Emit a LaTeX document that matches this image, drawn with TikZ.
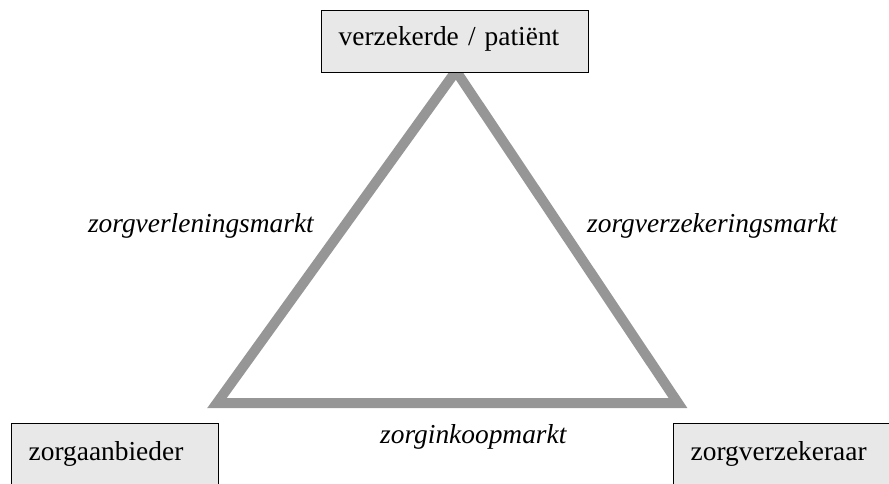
\documentclass[tikz,border=0pt]{standalone}
\usepackage{fontspec}
\setmainfont{Liberation Serif}
\definecolor{trigray}{RGB}{150,150,150}
\definecolor{boxfill}{RGB}{232,232,232}
\begin{document}
\begin{tikzpicture}[x=1pt,y=-1pt,
  every node/.style={font=\fontsize{27.4}{33}\selectfont},
  partybox/.style={draw=black, line width=1.4pt, fill=boxfill, rectangle,
    anchor=north west, inner xsep=17pt, inner ysep=0pt, align=left,
    minimum height=62pt, text height=19pt, text depth=7pt},
  marketlabel/.style={font=\fontsize{27.4}{33}\selectfont\itshape, inner sep=0pt},
  triline/.style={draw=trigray, line width=10pt, line join=miter, miter limit=10}]
\useasboundingbox (0,0) rectangle (889,484);
\clip (0,0) rectangle (889,484);
% triangle corners
\coordinate (bl) at (217,403);
\coordinate (br) at (678,403);
\coordinate (apex) at (456,71);
\draw[triline] (bl) -- (br) -- (apex) -- cycle;
% parties
\node[partybox, text width=233pt, text depth=11pt] (patient) at (321,10) {verzekerde / patiënt};
\node[partybox, text width=173pt] (aanbieder) at (11,423) {zorgaanbieder};
\node[partybox, text width=220pt] (verzekeraar) at (673,423) {zorgverzekeraar};
% markets
\node[marketlabel, anchor=base east] (verlening) at (314,232) {zorgverleningsmarkt};
\node[marketlabel, anchor=base west] (verzekering) at (587,232) {zorgverzekeringsmarkt};
\node[marketlabel, anchor=base west] (inkoop) at (380,443) {zorginkoopmarkt};
\end{tikzpicture}
\end{document}
